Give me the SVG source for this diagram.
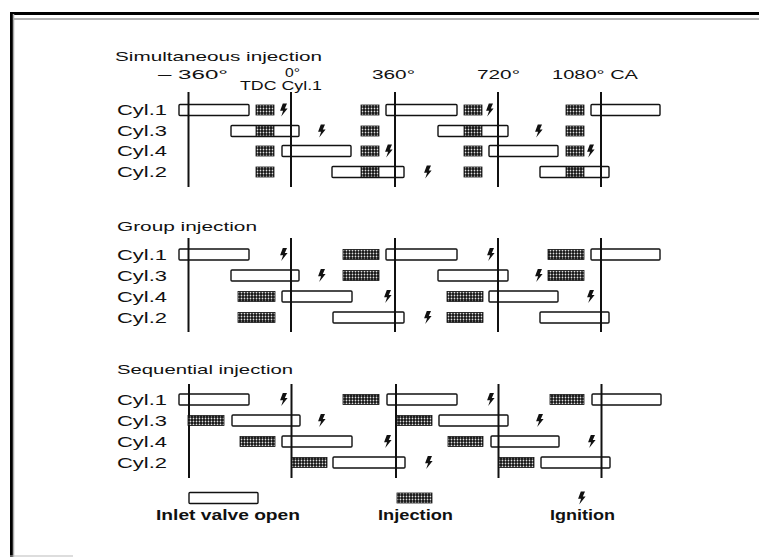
<svg xmlns="http://www.w3.org/2000/svg" width="759" height="557" viewBox="0 0 759 557">
<defs>
<pattern id="hatch" width="3" height="3" patternUnits="userSpaceOnUse">
<rect width="3" height="3" fill="#111"/>
<circle cx="1.5" cy="1.5" r="0.9" fill="#e0e0e0"/>
</pattern>
<path id="ign" d="M0.8,-6.5 L5,-6.5 L2.8,-1.6 L5.6,-1.6 L-0.8,6.6 L1.1,0.8 L-1.9,0.8 Z" fill="#111"/>
<rect id="b1" x="0" y="-5" width="18" height="10" fill="url(#hatch)" stroke="#111" stroke-width="0.8"/>
</defs>
<style>
.t{font-family:"Liberation Sans",Arial,sans-serif;fill:#111;}
.cy{font-size:14px;}
.hd{font-size:13px;}
.ax{font-size:12.5px;}
.lg{font-size:14px;font-weight:bold;}
.vl{stroke:#111;stroke-width:2;fill:none;}
.iv{fill:none;stroke:#111;stroke-width:1.4;}
.inj{fill:url(#hatch);stroke:#111;stroke-width:0.8;}
</style>
<rect width="759" height="557" fill="#fff"/>
<g id="frame">
<line x1="10" y1="13.5" x2="759" y2="13.5" stroke="#000" stroke-width="3"/>
<line x1="14" y1="19" x2="759" y2="19" stroke="#999" stroke-width="1.5"/>
<line x1="11.5" y1="12" x2="11.5" y2="557" stroke="#000" stroke-width="3"/>
<line x1="13.5" y1="14" x2="13.5" y2="557" stroke="#aaa" stroke-width="1.5"/>
<line x1="10" y1="556" x2="73" y2="556" stroke="#bbb" stroke-width="1.2"/>
</g>
<g id="titles">
<text class="t hd" x="115" y="61" textLength="207" lengthAdjust="spacingAndGlyphs">Simultaneous injection</text>
<text class="t hd" x="117" y="231" textLength="140" lengthAdjust="spacingAndGlyphs">Group injection</text>
<text class="t hd" x="117" y="374" textLength="176" lengthAdjust="spacingAndGlyphs">Sequential injection</text>
</g>
<g id="axis">
<text class="t ax" x="158" y="79" textLength="70" lengthAdjust="spacingAndGlyphs">–  360°</text>
<text class="t ax" x="285" y="77" textLength="15" lengthAdjust="spacingAndGlyphs">0°</text>
<text class="t ax" x="240" y="89.5" textLength="82" lengthAdjust="spacingAndGlyphs">TDC Cyl.1</text>
<text class="t ax" x="372" y="79" textLength="43" lengthAdjust="spacingAndGlyphs">360°</text>
<text class="t ax" x="477" y="79" textLength="43" lengthAdjust="spacingAndGlyphs">720°</text>
<text class="t ax" x="552" y="79" textLength="86" lengthAdjust="spacingAndGlyphs">1080° CA</text>
</g>
<g id="connectors">
<line class="vl" x1="188.5" y1="92" x2="188.5" y2="187"/>
<line class="vl" x1="291" y1="92" x2="291" y2="187"/>
<line class="vl" x1="395" y1="92" x2="395" y2="187"/>
<line class="vl" x1="498" y1="92" x2="498" y2="187"/>
<line class="vl" x1="601" y1="92" x2="601" y2="187"/>
<line class="vl" x1="188.5" y1="238" x2="188.5" y2="332"/>
<line class="vl" x1="291" y1="238" x2="291" y2="332"/>
<line class="vl" x1="395" y1="238" x2="395" y2="332"/>
<line class="vl" x1="498" y1="238" x2="498" y2="332"/>
<line class="vl" x1="601" y1="238" x2="601" y2="332"/>
<line class="vl" x1="189" y1="384" x2="189" y2="478"/>
<line class="vl" x1="291.5" y1="384" x2="291.5" y2="478"/>
<line class="vl" x1="396" y1="384" x2="396" y2="478"/>
<line class="vl" x1="498.5" y1="384" x2="498.5" y2="478"/>
<line class="vl" x1="601.5" y1="384" x2="601.5" y2="478"/>
</g>
<!-- Simultaneous -->
<g id="sim-cyl1">
<text class="t cy" x="117" y="115" textLength="50" lengthAdjust="spacingAndGlyphs">Cyl.1</text>
<rect class="iv" x="179" y="104.5" width="70" height="11" rx="1"/>
<rect class="iv" x="386" y="104.5" width="71" height="11" rx="1"/>
<rect class="iv" x="591" y="104.5" width="69" height="11" rx="1"/>
<use href="#b1" x="256" y="110"/><use href="#b1" x="361" y="110"/><use href="#b1" x="464" y="110"/><use href="#b1" x="566" y="110"/>
<use href="#ign" x="282" y="110"/><use href="#ign" x="488" y="110"/>
</g>
<g id="sim-cyl3">
<text class="t cy" x="117" y="136" textLength="50" lengthAdjust="spacingAndGlyphs">Cyl.3</text>
<rect class="iv" x="231" y="125.5" width="68" height="11" rx="1"/>
<rect class="iv" x="438" y="125.5" width="70" height="11" rx="1"/>
<use href="#b1" x="256" y="131"/><use href="#b1" x="361" y="131"/><use href="#b1" x="464" y="131"/><use href="#b1" x="566" y="131"/>
<use href="#ign" x="320" y="131"/><use href="#ign" x="537" y="131"/>
</g>
<g id="sim-cyl4">
<text class="t cy" x="117" y="156" textLength="50" lengthAdjust="spacingAndGlyphs">Cyl.4</text>
<rect class="iv" x="282" y="145.5" width="69" height="11" rx="1"/>
<rect class="iv" x="489" y="145.5" width="69" height="11" rx="1"/>
<use href="#b1" x="256" y="151"/><use href="#b1" x="361" y="151"/><use href="#b1" x="464" y="151"/><use href="#b1" x="566" y="151"/>
<use href="#ign" x="387" y="151"/><use href="#ign" x="589" y="151"/>
</g>
<g id="sim-cyl2">
<text class="t cy" x="117" y="177" textLength="50" lengthAdjust="spacingAndGlyphs">Cyl.2</text>
<rect class="iv" x="332" y="166.5" width="72" height="11" rx="1"/>
<rect class="iv" x="540" y="166.5" width="69" height="11" rx="1"/>
<use href="#b1" x="256" y="172"/><use href="#b1" x="361" y="172"/><use href="#b1" x="464" y="172"/><use href="#b1" x="566" y="172"/>
<use href="#ign" x="426" y="172"/>
</g>
<!-- Group -->
<g id="grp-cyl1">
<text class="t cy" x="117" y="259.5" textLength="50" lengthAdjust="spacingAndGlyphs">Cyl.1</text>
<rect class="iv" x="179" y="249" width="70" height="11" rx="1"/>
<rect class="iv" x="386" y="249" width="71" height="11" rx="1"/>
<rect class="iv" x="591" y="249" width="69" height="11" rx="1"/>
<rect class="inj" x="343" y="249.5" width="36" height="10"/>
<rect class="inj" x="548" y="249.5" width="36" height="10"/>
<use href="#ign" x="282" y="254.5"/><use href="#ign" x="489" y="254.5"/>
</g>
<g id="grp-cyl3">
<text class="t cy" x="117" y="280.5" textLength="50" lengthAdjust="spacingAndGlyphs">Cyl.3</text>
<rect class="iv" x="231" y="270" width="68" height="11" rx="1"/>
<rect class="iv" x="438" y="270" width="70" height="11" rx="1"/>
<rect class="inj" x="343" y="270.5" width="36" height="10"/>
<rect class="inj" x="548" y="270.5" width="36" height="10"/>
<use href="#ign" x="320" y="275.5"/><use href="#ign" x="537" y="275.5"/>
</g>
<g id="grp-cyl4">
<text class="t cy" x="117" y="301.5" textLength="50" lengthAdjust="spacingAndGlyphs">Cyl.4</text>
<rect class="iv" x="282" y="291" width="70" height="11" rx="1"/>
<rect class="iv" x="489" y="291" width="69" height="11" rx="1"/>
<rect class="inj" x="238" y="291.5" width="37" height="10"/>
<rect class="inj" x="447" y="291.5" width="36" height="10"/>
<use href="#ign" x="386" y="296.5"/><use href="#ign" x="589" y="296.5"/>
</g>
<g id="grp-cyl2">
<text class="t cy" x="117" y="322.5" textLength="50" lengthAdjust="spacingAndGlyphs">Cyl.2</text>
<rect class="iv" x="333" y="312" width="71" height="11" rx="1"/>
<rect class="iv" x="540" y="312" width="69" height="11" rx="1"/>
<rect class="inj" x="238" y="312.5" width="37" height="10"/>
<rect class="inj" x="447" y="312.5" width="36" height="10"/>
<use href="#ign" x="426" y="317.5"/>
</g>
<!-- Sequential -->
<g id="seq-cyl1">
<text class="t cy" x="117" y="404.5" textLength="50" lengthAdjust="spacingAndGlyphs">Cyl.1</text>
<rect class="iv" x="179" y="394" width="70" height="11" rx="1"/>
<rect class="iv" x="387" y="394" width="70" height="11" rx="1"/>
<rect class="iv" x="592" y="394" width="69" height="11" rx="1"/>
<rect class="inj" x="343" y="394.5" width="36" height="10"/>
<rect class="inj" x="550" y="394.5" width="34" height="10"/>
<use href="#ign" x="282" y="399.5"/><use href="#ign" x="489" y="399.5"/>
</g>
<g id="seq-cyl3">
<text class="t cy" x="117" y="425.5" textLength="50" lengthAdjust="spacingAndGlyphs">Cyl.3</text>
<rect class="iv" x="232" y="415" width="68" height="11" rx="1"/>
<rect class="iv" x="439" y="415" width="69" height="11" rx="1"/>
<rect class="inj" x="188" y="415.5" width="36" height="10"/>
<rect class="inj" x="397" y="415.5" width="35" height="10"/>
<use href="#ign" x="320" y="420.5"/><use href="#ign" x="538" y="420.5"/>
</g>
<g id="seq-cyl4">
<text class="t cy" x="117" y="446.5" textLength="50" lengthAdjust="spacingAndGlyphs">Cyl.4</text>
<rect class="iv" x="282" y="436" width="70" height="11" rx="1"/>
<rect class="iv" x="491" y="436" width="68" height="11" rx="1"/>
<rect class="inj" x="240" y="436.5" width="35" height="10"/>
<rect class="inj" x="448" y="436.5" width="35" height="10"/>
<use href="#ign" x="386" y="441.5"/><use href="#ign" x="590" y="441.5"/>
</g>
<g id="seq-cyl2">
<text class="t cy" x="117" y="467.5" textLength="50" lengthAdjust="spacingAndGlyphs">Cyl.2</text>
<rect class="iv" x="333" y="457" width="72" height="11" rx="1"/>
<rect class="iv" x="541" y="457" width="69" height="11" rx="1"/>
<rect class="inj" x="292" y="457.5" width="35" height="10"/>
<rect class="inj" x="499" y="457.5" width="35" height="10"/>
<use href="#ign" x="427" y="462.5"/>
</g>
<!-- Legend -->
<g id="legend-inlet">
<rect class="iv" x="189" y="492.5" width="69" height="11" rx="1"/>
<text class="t lg" x="156" y="520" textLength="144" lengthAdjust="spacingAndGlyphs">Inlet valve open</text>
</g>
<g id="legend-injection">
<rect class="inj" x="397" y="493" width="35" height="10"/>
<text class="t lg" x="378" y="520" textLength="75" lengthAdjust="spacingAndGlyphs">Injection</text>
</g>
<g id="legend-ignition">
<use href="#ign" x="580" y="498"/>
<text class="t lg" x="550" y="520" textLength="65" lengthAdjust="spacingAndGlyphs">Ignition</text>
</g>
</svg>
